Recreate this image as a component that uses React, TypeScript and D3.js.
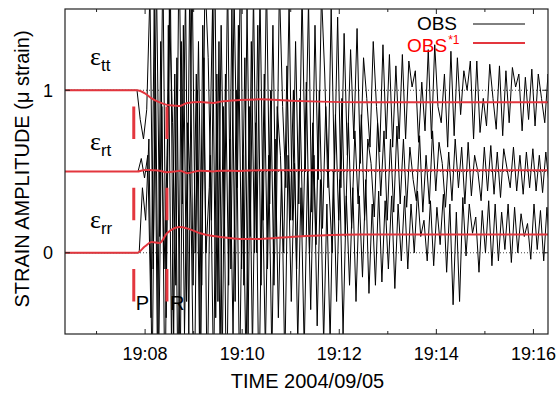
import { useEffect, useRef } from 'react'
import * as d3 from 'd3'

// time in seconds after 19:00, 2004/09/05
const T_START = 381
const T_END = 978
const SAMPLE_DT = 4

const majorTicks = [480, 600, 720, 840, 960]
const minorTicks = [420, 540, 660, 780, 900]
const tickLabels = ['19:08', '19:10', '19:12', '19:14', '19:16']

const componentNames = ['tt', 'rt', 'rr']
const offsets = [1, 0.5, 0]
// first sample time of each record (s)
const recordStart = [470, 471.3, 472.7]

// observed strain change (μ strain), 4 s samples
const obsTT = [
  0, -0.18, -0.3, -0.12,
  0.6, -1.1, 0.7, -0.9, 0.8, -1.4, 0.5, -0.2, -1.2, 0.9, -0.7, 0.6, -1.5, 0.8, -1.0, 0.3, -1.2,
  0.7, 0.2, -0.8, 0.9, -1.3, 0.4, -0.9, 0.7, -1.1, 0.6, -0.6, 0.8, -1.2, 0.5, -0.9, 0.6, -1.0,
  0.6, -0.8, 0.7, -0.7, 0.4, -0.9, 0.65, -0.1, -0.6, 0.55, -0.8, 0.3, -0.7, 0.6, -0.5, 0.55, -0.75,
  0.4, -0.55, 0.6, 0.1, -0.6, 0.5, -0.5, 0.45,
  -0.6, 0.35, -0.4, 0.25, -0.3, 0.38, -0.45, 0.2, -0.05, -0.35, 0.3, -0.1, -0.38, 0.28, -0.3, 0.22,
  -0.35, 0.15, -0.3, 0.22, -0.3, 0.18, 0.02, 0.12, -0.32, 0.05, -0.25, 0.25, -0.3, 0.28, -0.1,
  -0.2, 0.1, -0.35, 0.24, -0.28, 0.2, -0.15, 0.12, 0.0, 0.18, -0.3, 0.18, -0.26, -0.05, -0.22,
  0.16, -0.05, -0.24, 0.15, -0.28, 0.12, -0.2, 0.14, 0.02, 0.1, -0.25, 0.08, -0.18, 0.13, -0.22,
  0.1, -0.05, -0.2, 0.1, -0.15, 0.05, -0.22, 0.08,
]
const obsRT = [
  0, 0.08, -0.04, 0.1,
  -0.9, 1.0, -1.2, 0.8, -0.6, 0.1, 1.1, -1.0, 0.7, -1.3, 0.9, -0.8, 1.2, -0.7, 0.6, -1.1, 0.9,
  -0.5, -0.1, 1.0, -0.9, 0.8, -1.2, 0.6, -0.7, 1.0, -0.8, 0.9, -0.6, 0.7, -1.0, 0.8, -0.5, 0.9,
  -0.7, 0.6, -0.6, 0.5, -0.7, 0.4, 0.1, -0.5, 0.65, -0.3, 0.5, -0.6, 0.45, -0.4, 0.55, -0.5, 0.3,
  -0.45, 0.5, -0.35, 0.4, -0.1, -0.5, 0.35, -0.3,
  0.45, -0.4, 0.3, -0.35, 0.25, -0.2, 0.35, -0.3, 0.2, 0.05, -0.28, 0.3, -0.15, 0.25, -0.3, 0.2,
  -0.25, 0.28, -0.2, 0.2, -0.22, 0.15, -0.05, -0.18, 0.22, -0.25, 0.1, -0.2, 0.25, -0.12, 0.18,
  0.05, -0.22, 0.12, -0.18, 0.2, -0.1, 0.15, -0.2, 0.18, -0.15, 0.1, 0.0, -0.18, 0.15, -0.12,
  0.16, -0.14, 0.12, -0.16, 0.14, 0.02, -0.1, 0.15, -0.12, 0.1, -0.14, 0.12, -0.1, 0.14, -0.12,
  0.1, -0.13, 0.12, -0.08, 0.11, -0.12, 0.1, -0.1,
]
const obsRR = [
  0, 0.4, 0.2, 0.7,
  -0.8, 1.2, -0.7, 0.9, -1.0, 1.4, -0.6, 1.1, -0.9, 1.3, -0.5, 0.8, 0.3, -1.1, 1.0, -0.7, 1.2,
  -0.9, 0.6, -0.8, 1.1, -0.6, 0.9, -1.0, 0.7, -0.5, 1.0, -0.8, 0.6, -0.7, 0.9, -0.6, 0.8, -0.9,
  0.5, -0.6, 0.6, -0.65, 0.7, -0.4, 0.5, -0.7, 0.6, -0.3, 0.55, -0.55, 0.4, -0.6, 0.5, -0.35, 0.6,
  -0.45, 0.45, -0.55, 0.3, -0.55, 0.5, -0.3, 0.45,
  -0.5, 0.35, -0.2, 0.4, -0.3, 0.35, -0.15, 0.45, -0.25, 0.3, -0.2, 0.38, -0.18, 0.32, -0.1, 0.35,
  -0.22, 0.3, -0.05, 0.35, -0.1, 0.3, 0.0, 0.38, 0.1, 0.2, -0.05, 0.32, -0.08, 0.28, 0.05,
  0.36, -0.12, 0.3, -0.32, 0.25, -0.3, 0.34, -0.02, 0.3, 0.12, 0.22, -0.12, 0.26, 0.0, 0.32,
  -0.08, 0.3, -0.05, 0.25, 0.02, 0.3, -0.06, 0.28, 0.0, 0.24, 0.1, 0.18, -0.04, 0.3, 0.02,
  0.26, -0.05, 0.28, 0.0, 0.25, -0.03, 0.3, 0.02, 0.24, -0.06, 0.26,
]

// OBS*1 (smoothed) strain change
const filtT = [381, 470, 480, 488, 498, 507, 517, 523, 532, 548, 564, 573, 597, 622, 659, 696, 746, 978]
const filtTT = [0, 0, -0.02, -0.05, -0.075, -0.09, -0.095, -0.097, -0.078, -0.072, -0.078, -0.07, -0.06, -0.056, -0.064, -0.07, -0.074, -0.074]
const filtRT = [0, 0, 0.01, 0.008, 0.005, -0.005, 0, 0.005, -0.01, 0.005, 0, 0.005, 0.003, 0.008, 0.008, 0.008, 0.008, 0.008]
const filtRR = [0, 0, 0.04, 0.066, 0.06, 0.12, 0.152, 0.158, 0.15, 0.12, 0.103, 0.097, 0.085, 0.085, 0.097, 0.106, 0.112, 0.112]

// phase arrivals (s)
const pArrival = 466
const rArrival = 507

const RED = '#e3363e'

export default function App() {
  const svgRef = useRef<SVGSVGElement>(null)

  useEffect(() => {
    if (!svgRef.current) return
    const svg = d3.select(svgRef.current)
    svg.selectAll('*').remove()

    const width = 558
    const height = 394
    const margin = { top: 9, right: 10, bottom: 60, left: 65 }
    const x0 = margin.left
    const x1 = width - margin.right
    const y0 = margin.top
    const y1 = height - margin.bottom

    svg.attr('width', width).attr('height', height)

    const xScale = d3.scaleLinear().domain([T_START, T_END]).range([x0, x1])
    const yScale = d3.scaleLinear().domain([-0.5, 1.5]).range([y1, y0])

    svg.append('defs').append('clipPath').attr('id', 'plot-clip')
      .append('rect').attr('x', x0).attr('y', y0).attr('width', x1 - x0).attr('height', y1 - y0)

    // zero lines of each component
    offsets.forEach((o) => {
      svg.append('line')
        .attr('x1', x0).attr('x2', x1)
        .attr('y1', yScale(o)).attr('y2', yScale(o))
        .attr('stroke', '#444').attr('stroke-width', 1)
        .attr('stroke-dasharray', '1,2')
    })

    const plot = svg.append('g').attr('clip-path', 'url(#plot-clip)')

    const obs = [obsTT, obsRT, obsRR]
    const filt = [filtTT, filtRT, filtRR]

    const line = d3.line<[number, number]>()
      .x((d) => xScale(d[0]))
      .y((d) => yScale(d[1]))

    obs.forEach((vals, k) => {
      const pts: [number, number][] = [[T_START, offsets[k]]]
      vals.forEach((v, i) => pts.push([recordStart[k] + i * SAMPLE_DT, offsets[k] + v]))
      plot.append('path')
        .attr('d', line(pts))
        .attr('fill', 'none')
        .attr('stroke', '#000')
        .attr('stroke-width', 1)
    })

    const smooth = d3.line<[number, number]>()
      .x((d) => xScale(d[0]))
      .y((d) => yScale(d[1]))
      .curve(d3.curveMonotoneX)

    filt.forEach((vals, k) => {
      const pts: [number, number][] = vals.map((v, i) => [filtT[i], offsets[k] + v])
      plot.append('path')
        .attr('d', smooth(pts))
        .attr('fill', 'none')
        .attr('stroke', RED)
        .attr('stroke-width', 2)
    })

    // P and R arrival markers
    offsets.forEach((o) => {
      ;[pArrival, rArrival].forEach((t) => {
        svg.append('line')
          .attr('x1', xScale(t)).attr('x2', xScale(t))
          .attr('y1', yScale(o - 0.1)).attr('y2', yScale(o - 0.3))
          .attr('stroke', RED).attr('stroke-width', 3)
      })
    })
    svg.append('text').attr('x', xScale(pArrival) + 2).attr('y', 310)
      .attr('font-family', 'Liberation Sans, Arial, sans-serif').attr('font-size', 20).text('P')
    svg.append('text').attr('x', xScale(rArrival) + 3).attr('y', 310)
      .attr('font-family', 'Liberation Sans, Arial, sans-serif').attr('font-size', 20).text('R')

    // component labels
    componentNames.forEach((name, k) => {
      const baseY = [65, 150, 228][k]
      const t = svg.append('text').attr('x', 90).attr('y', baseY)
        .attr('font-family', 'Liberation Serif, Times New Roman, serif').attr('font-size', 26)
      t.append('tspan').text('ε')
      t.append('tspan').attr('dy', 6).attr('font-size', 17)
        .attr('font-family', 'Liberation Sans, Arial, sans-serif').text(name)
    })

    // frame
    svg.append('rect')
      .attr('x', x0).attr('y', y0).attr('width', x1 - x0).attr('height', y1 - y0)
      .attr('fill', 'none').attr('stroke', '#222').attr('stroke-width', 1.2)

    const font = 'Liberation Sans, Arial, Helvetica, sans-serif'

    // x ticks (bottom and top, inward)
    majorTicks.forEach((t, i) => {
      const x = xScale(t)
      svg.append('line').attr('x1', x).attr('x2', x).attr('y1', y1).attr('y2', y1 - 5).attr('stroke', '#222')
      svg.append('line').attr('x1', x).attr('x2', x).attr('y1', y0).attr('y2', y0 + 5).attr('stroke', '#222')
      svg.append('text').attr('x', x).attr('y', 360).attr('text-anchor', 'middle')
        .attr('font-family', font).attr('font-size', 18).text(tickLabels[i])
    })
    minorTicks.forEach((t) => {
      const x = xScale(t)
      svg.append('line').attr('x1', x).attr('x2', x).attr('y1', y1).attr('y2', y1 - 3).attr('stroke', '#222')
      svg.append('line').attr('x1', x).attr('x2', x).attr('y1', y0).attr('y2', y0 + 3).attr('stroke', '#222')
    })

    // y ticks
    ;[0, 1].forEach((v) => {
      const y = yScale(v)
      svg.append('line').attr('x1', x0).attr('x2', x0 + 5).attr('y1', y).attr('y2', y).attr('stroke', '#222')
      svg.append('line').attr('x1', x1).attr('x2', x1 - 5).attr('y1', y).attr('y2', y).attr('stroke', '#222')
      svg.append('text').attr('x', 53).attr('y', y).attr('dy', '0.36em').attr('text-anchor', 'end')
        .attr('font-family', font).attr('font-size', 18).text(String(v))
    })

    // axis titles
    svg.append('text').attr('x', (x0 + x1) / 2 + 1).attr('y', 388).attr('text-anchor', 'middle')
      .attr('font-family', font).attr('font-size', 20).text('TIME 2004/09/05')
    svg.append('text').attr('transform', 'translate(29,169) rotate(-90)').attr('text-anchor', 'middle')
      .attr('font-family', font).attr('font-size', 20).text('STRAIN AMPLITUDE (μ strain)')

    // legend
    svg.append('text').attr('x', 457).attr('y', 30).attr('text-anchor', 'end')
      .attr('font-family', font).attr('font-size', 19).text('OBS')
    svg.append('line').attr('x1', 473).attr('x2', 525).attr('y1', 24).attr('y2', 24)
      .attr('stroke', '#000').attr('stroke-width', 1)
    const red = svg.append('text').attr('x', 407).attr('y', 52)
      .attr('font-family', font).attr('font-size', 19).attr('fill', '#ff0000')
    red.append('tspan').text('OBS')
    red.append('tspan').attr('dx', 1).attr('dy', -8).attr('font-size', 12).text('*1')
    svg.append('line').attr('x1', 473).attr('x2', 525).attr('y1', 43).attr('y2', 43)
      .attr('stroke', RED).attr('stroke-width', 2)
  }, [])

  return (
    <div style={{ position: 'absolute', left: 0, top: 0 }}>
      <svg ref={svgRef}></svg>
    </div>
  )
}
